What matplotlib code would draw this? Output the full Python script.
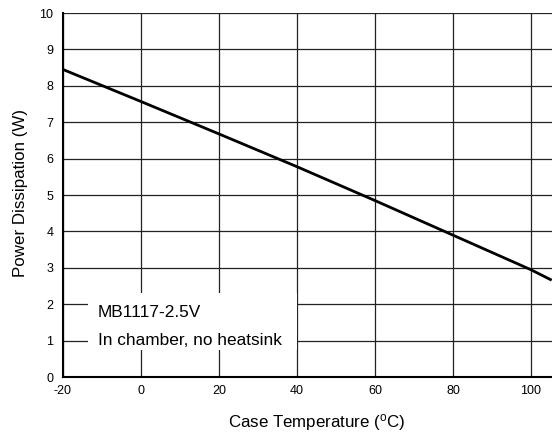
import matplotlib
matplotlib.use('Agg')
import matplotlib.pyplot as plt
from matplotlib.patches import Rectangle

plt.rcParams['font.family'] = ['Liberation Sans', 'DejaVu Sans']
plt.rcParams['axes.unicode_minus'] = False

# case temperature (°C) vs power dissipation (W)
temp_c = [-20, 0, 20, 40, 60, 80, 100, 105]
power_w = [8.45, 7.57, 6.68, 5.78, 4.85, 3.9, 2.95, 2.68]

x_ticks = [-20, 0, 20, 40, 60, 80, 100]
y_ticks = list(range(0, 11))

fig = plt.figure(figsize=(5.52, 4.34), dpi=100)
ax = fig.add_axes([0.114, 0.131, 0.886, 0.839])

ax.set_xlim(-20, 105.4)
ax.set_ylim(0, 10)
ax.set_xticks(x_ticks)
ax.set_yticks(y_ticks)
ax.tick_params(length=0, labelsize=9)
ax.tick_params(axis='x', pad=6)
ax.tick_params(axis='y', pad=7)
ax.grid(True, color='#222222', linewidth=0.9)
ax.set_axisbelow(True)

for s in ['top', 'right']:
    ax.spines[s].set_visible(False)
for s in ['left', 'bottom']:
    ax.spines[s].set_linewidth(1.5)
    ax.spines[s].set_zorder(5)

ax.plot(temp_c, power_w, color='black', linewidth=2, zorder=3)

# white box behind the note
ax.add_patch(Rectangle((-13.6, 0.74), 53.6, 1.56, facecolor='white',
                       edgecolor='none', zorder=2))
ax.text(-11, 1.78, 'MB1117-2.5V', fontsize=12.4, va='center', zorder=4)
ax.text(-11, 1.02, 'In chamber, no heatsink', fontsize=12.4, va='center', zorder=4)

ax.set_xlabel('Case Temperature ($\\mathregular{^o}$C)', fontsize=12.2)
ax.set_ylabel('Power Dissipation (W)', fontsize=12.2)
ax.xaxis.set_label_coords(0.518, -0.097)
ax.yaxis.set_label_coords(-0.072, 0.505)

fig.savefig('out.png', dpi=100)
